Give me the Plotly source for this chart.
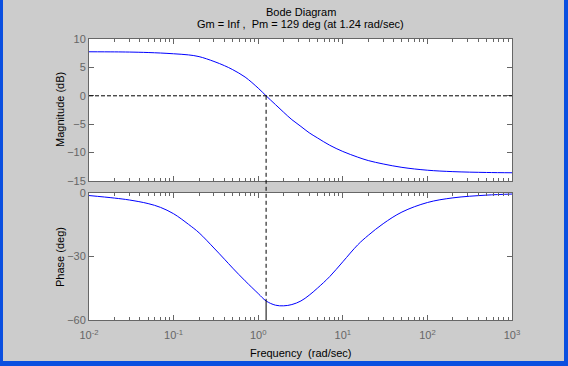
import plotly.graph_objects as go

# ---- data ----
freq = [0.01, 0.02, 0.03, 0.05, 0.07, 0.1, 0.15, 0.2, 0.3, 0.4, 0.5, 0.7, 1.0, 1.24, 1.6, 2.0, 2.5,
        3.2, 4.0, 5.0, 7.0, 10.0, 15.0, 20.0, 30.0, 50.0, 100.0, 200.0, 500.0, 1000.0]
mag_db = [7.75, 7.73, 7.7, 7.62, 7.53, 7.4, 7.2, 6.9, 6.05, 5.3, 4.6, 3.3, 1.35, 0.0, -1.55, -2.9, -4.2,
          -5.4, -6.5, -7.4, -8.7, -9.8, -10.8, -11.4, -12.0, -12.6, -13.1, -13.35, -13.5, -13.55]
phase_deg = [-1.2, -2.4, -3.3, -5.0, -6.8, -9.8, -14.8, -18.8, -26.0, -31.3, -35.5, -41.5, -47.5, -51.0,
             -53.0, -53.3, -52.7, -51.0, -48.3, -45.0, -39.5, -32.5, -24.5, -20.0, -14.5, -9.0, -4.5,
             -2.3, -1.0, -0.5]

wc = 1.24          # gain crossover (rad/sec)
pm_phase = -51.0   # phase at crossover (Pm = 129 deg)

x_tickvals = [0.01, 0.1, 1, 10, 100, 1000]
x_ticktext = ["10<sup>-2</sup>", "10<sup>-1</sup>", "10<sup>0</sup>",
              "10<sup>1</sup>", "10<sup>2</sup>", "10<sup>3</sup>"]
x_minor = [m * 10.0 ** e for e in range(-2, 3) for m in range(2, 10)]
mag_ticks = [-15, -10, -5, 0, 5, 10]
phase_ticks = [-60, -30, 0]

title1 = "Bode Diagram"
title2 = "Gm = Inf ,  Pm = 129 deg (at 1.24 rad/sec)"
mag_label = "Magnitude (dB)"
phase_label = "Phase (deg)"
freq_label = "Frequency  (rad/sec)"

# ---- layout constants ----
W, H = 568, 366
ML, MR, MT, MB = 89, 56, 39, 46
plot_w = W - ML - MR
plot_h = H - MT - MB
top_px, gap_px, bot_px = 142, 12, 127
bot_dom = [0.0, bot_px / plot_h]
top_dom = [(bot_px + gap_px) / plot_h, 1.0]

GRAY = "#cccccc"
AX = "#666666"
FONT = "Liberation Sans, Arial, sans-serif"

def px_x(p):
    return (p - ML) / plot_w
def px_y(p):  # p measured from top of the page in pixels
    return (H - MB - p) / plot_h

fig = go.Figure()
fig.add_trace(go.Scatter(x=freq, y=mag_db, mode="lines",
                         line=dict(color="#0000ff", width=1, shape="spline", smoothing=1.0),
                         xaxis="x", yaxis="y", hoverinfo="skip", showlegend=False))
fig.add_trace(go.Scatter(x=freq, y=phase_deg, mode="lines",
                         line=dict(color="#0000ff", width=1, shape="spline", smoothing=1.0),
                         xaxis="x2", yaxis="y2", hoverinfo="skip", showlegend=False))

common_x = dict(type="log", range=[-2, 3], showgrid=False, zeroline=False, automargin=False,
                showline=True, linecolor=AX, linewidth=1, mirror="ticks",
                ticks="inside", ticklen=5, tickcolor=AX, tickwidth=1,
                tickvals=x_tickvals,
                minor=dict(tickvals=x_minor, ticks="inside", ticklen=3, tickcolor=AX, showgrid=False))
common_y = dict(showgrid=False, zeroline=False, showline=True, linecolor=AX, linewidth=1, automargin=False,
                mirror="ticks", ticks="inside", ticklen=5, tickcolor=AX,
                tickfont=dict(family=FONT, size=11, color=AX))

fig.update_layout(
    width=W, height=H,
    margin=dict(l=ML, r=MR, t=MT, b=MB, pad=0, autoexpand=False),
    paper_bgcolor=GRAY, plot_bgcolor="#ffffff",
    showlegend=False,
    font=dict(family=FONT, size=11, color="#000000"),
    xaxis=dict(common_x, domain=[0, 1], anchor="y", showticklabels=False),
    yaxis=dict(common_y, domain=top_dom, anchor="x", range=[-15, 10], tickvals=mag_ticks),
    xaxis2=dict(common_x, domain=[0, 1], anchor="y2", matches="x", ticktext=x_ticktext,
                tickfont=dict(family=FONT, size=11, color=AX), ticklabelstandoff=5),
    yaxis2=dict(common_y, domain=bot_dom, anchor="x2", range=[-60, 0], tickvals=phase_ticks),
)

def paper_y(val, rng, dom):
    return dom[0] + (val - rng[0]) / (rng[1] - rng[0]) * (dom[1] - dom[0])

# 0 dB dashed line
fig.add_shape(type="line", xref="x", yref="y", x0=0.01, x1=1000, y0=0, y1=0,
              line=dict(color="#000000", width=1, dash="4px,2px"))
# vertical dashed line from 0 dB down to phase at crossover
fig.add_shape(type="line", xref="x", yref="paper", x0=wc, x1=wc,
              y0=paper_y(0, [-15, 10], top_dom), y1=paper_y(pm_phase, [-60, 0], bot_dom),
              line=dict(color="#000000", width=1, dash="4px,3px"))
# solid phase-margin line
fig.add_shape(type="line", xref="x2", yref="y2", x0=wc, x1=wc, y0=-60, y1=pm_phase,
              line=dict(color="#000000", width=1))

# titles
lbl = dict(family=FONT, size=11, color="#000000")
fig.add_annotation(text=title1, xref="paper", yref="paper", x=0.5, y=1, yshift=19, showarrow=False,
                   font=lbl, xanchor="center", yanchor="bottom")
fig.add_annotation(text=title2, xref="paper", yref="paper", x=0.5, y=1, yshift=7, showarrow=False,
                   font=lbl, xanchor="center", yanchor="bottom")
# axis labels
fig.add_annotation(text=mag_label, xref="paper", yref="paper", x=px_x(60), y=px_y(110), textangle=-90,
                   showarrow=False, font=lbl, xanchor="center", yanchor="middle")
fig.add_annotation(text=phase_label, xref="paper", yref="paper", x=px_x(60), y=px_y(257), textangle=-90,
                   showarrow=False, font=lbl, xanchor="center", yanchor="middle")
fig.add_annotation(text=freq_label, xref="paper", yref="paper", x=0.5, y=px_y(353),
                   showarrow=False, font=lbl, xanchor="center", yanchor="middle")

# window frame (blue border)
FR = "#0a4fe0"
fig.add_shape(type="rect", xref="paper", yref="paper", layer="above",
              x0=px_x(0), x1=px_x(3), y0=px_y(H), y1=px_y(0), line=dict(width=0), fillcolor=FR)
fig.add_shape(type="rect", xref="paper", yref="paper", layer="above",
              x0=px_x(W - 4), x1=px_x(W), y0=px_y(H), y1=px_y(0), line=dict(width=0), fillcolor=FR)
fig.add_shape(type="rect", xref="paper", yref="paper", layer="above",
              x0=px_x(0), x1=px_x(W), y0=px_y(H), y1=px_y(H - 5), line=dict(width=0), fillcolor=FR)

fig.write_html("out.html", config={"displayModeBar": False},
               post_script="document.body.style.margin='0px';document.body.style.overflow='hidden';")
